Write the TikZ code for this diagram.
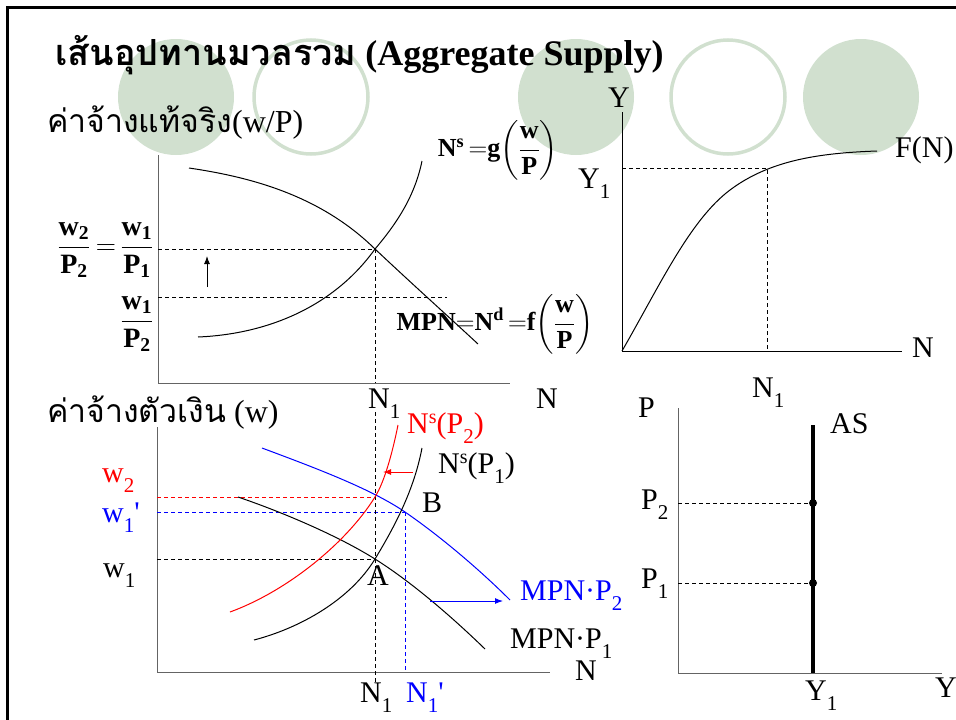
\RequirePackage{fix-cm}
\documentclass[tikz,border=0pt]{standalone}
\usepackage{amsmath}
\usepackage{fontspec}
\setmainfont{Liberation Serif}
\newfontfamily\thai[Script=Thai]{Loma}
\usetikzlibrary{arrows.meta}
\definecolor{cgreen}{RGB}{209,224,207}
\definecolor{axisgray}{RGB}{100,100,100}
\newcommand\lo[1]{\raisebox{-10pt}{\fontsize{21}{21}\selectfont #1}}
\newcommand\hi[1]{\raisebox{10pt}{\fontsize{20}{20}\selectfont #1}}
\newcommand\bfr[2]{\dfrac{\mathbf{#1}}{\mathbf{#2}}}
\begin{document}
\begin{tikzpicture}[x=1pt,y=-1pt,
  lbl/.style={inner sep=0pt, anchor=base west, font=\fontsize{30}{32}\selectfont},
  thlbl/.style={inner sep=0pt, anchor=base west, font=\fontsize{32}{34}\selectfont},
  bfrac/.style={inner sep=0pt, font=\fontsize{28}{32}\selectfont},
  eqn/.style={inner sep=0pt, font=\fontsize{26}{30}\selectfont},
  ax/.style={line width=1pt, draw=axisgray},
  axb/.style={line width=1pt, draw=black},
  crv/.style={line width=1pt},
  dsh/.style={line width=1pt, dash pattern=on 4pt off 3pt},
  arr/.style={line width=1pt,-{Latex[length=8pt,width=6pt]}},
  ring/.style={draw=cgreen, line width=3.5pt},
  disc/.style={fill=cgreen}]
\useasboundingbox (0,0) rectangle (956,720);
% decorative circles
\fill[disc] (176,97) circle[radius=58pt];
\draw[ring] (311,97) circle[radius=57pt];
\fill[disc] (576,97) circle[radius=58pt];
\draw[ring] (728,97) circle[radius=57pt];
\fill[disc] (861,97) circle[radius=58pt];
% frame
\draw[line width=3pt] (7,720) -- (7,7) -- (956,7);
% title
\node[inner sep=0pt, anchor=base west, font=\fontsize{36}{40}\selectfont\bfseries] (title) at (55,65) {{\thai เส้นอุปทานมวลรวม} (Aggregate Supply)};
\node[thlbl] (realw) at (47,132) {{\thai ค่าจ้างแท้จริง}(w/P)};
\node[thlbl] (nomw) at (47,422) {{\thai ค่าจ้างตัวเงิน} (w)};

% ---------- top-left panel ----------
\coordinate (tlO) at (158,383);
\coordinate (tlT) at (158,155);
\coordinate (tlR) at (510,383);
\draw[ax] (tlT) -- (tlO) -- (tlR);
\coordinate (E1) at (375,249);
\coordinate (tlH) at (158,249);
\coordinate (tlL) at (158,297);
\coordinate (tlLe) at (447,297);
\coordinate (tlB) at (375,383);
\draw[dsh] (tlH) -- (E1);
\draw[dsh] (tlL) -- (tlLe);
\draw[dsh] (E1) -- (tlB);
\draw[crv] (189,168) .. controls (250,177) and (320,195) .. (E1) .. controls (410,282) and (450,318) .. (478,344);
\draw[crv] (198,337) .. controls (270,334) and (335,305) .. (E1) .. controls (398,222) and (415,195) .. (422,161);
\coordinate (upA) at (207,287);
\coordinate (upB) at (207,256);
\draw[arr] (upA) -- (upB);
\node[bfrac] (f1) at (74,250) {$\bfr{w_2}{P_2}$};
\node[bfrac] (eq1) at (106,250) {$=$};
\node[bfrac] (f2) at (137,250) {$\bfr{w_1}{P_1}$};
\node[bfrac] (f3) at (137,324) {$\bfr{w_1}{P_2}$};
\node[eqn] (nseq) at (498,150) {$\mathbf{N}^{\mathbf{s}}\,{\mathbf{=}}\mathbf{g}\biggl(\dfrac{\mathbf{w}}{\mathbf{P}}\biggr)$};
\node[eqn] (ndeq) at (495,324) {$\mathbf{MPN{=}N}^{\mathbf{d}}\,{\mathbf{=}}\mathbf{f}\biggl(\dfrac{\mathbf{w}}{\mathbf{P}}\biggr)$};
\node[lbl] (tlN1) at (368,408) {N\lo{1}};
\node[lbl] (tlN) at (536,408) {N};

% ---------- top-right panel ----------
\coordinate (trO) at (622,351);
\coordinate (trT) at (622,112);
\coordinate (trR) at (902,351);
\draw[axb] (trT) -- (trO) -- (trR);
\coordinate (trY1) at (622,168);
\coordinate (trP) at (767,168);
\coordinate (trN1) at (767,351);
\coordinate (trK) at (730,190);
\coordinate (trE) at (877,151);
\draw[dsh] (trY1) -- (trP) -- (trN1);
\draw[crv] (trO) .. controls (660,285) and (690,220) .. (trK) .. controls (770,160) and (820,153) .. (trE);
\node[lbl, anchor=center] (trYl) at (619,98) {Y};
\node[lbl] (trY1l) at (578,188) {Y\lo{1}};
\node[lbl] (trFN) at (895,157) {F(N)};
\node[lbl] (trNl) at (912,357) {N};
\node[lbl] (trN1l) at (752,397) {N\lo{1}};

% ---------- bottom-left panel ----------
\coordinate (blO) at (157,672);
\coordinate (blT) at (157,427);
\coordinate (blR) at (550,672);
\draw[ax] (blT) -- (blO) -- (blR);
\coordinate (A) at (375,559);
\coordinate (B) at (405,512);
\coordinate (C) at (375,497);
\draw[dsh, red] (157,497) coordinate (blw2) -- (C);
\draw[dsh, blue] (157,512) coordinate (blw1p) -- (B);
\draw[dsh, blue] (B) -- (405,672) coordinate (blN1p);
\draw[dsh] (157,559) coordinate (blw1) -- (A);
\draw[dsh] (375,412) coordinate (vT) -- (375,682) coordinate (vB);
% MPN.P1
\draw[crv] (238,497) .. controls (285,513) and (340,537) .. (A) .. controls (410,581) and (450,615) .. (485,649);
% MPN.P2
\draw[crv, blue] (262,448) .. controls (310,466) and (370,488) .. (B) .. controls (440,536) and (480,570) .. (510,600);
% Ns(P1)
\draw[crv] (254,640) .. controls (300,628) and (350,600) .. (A) .. controls (395,526) and (414,490) .. (422,448);
% Ns(P2)
\draw[crv, red] (230,612) .. controls (285,592) and (345,545) .. (C) .. controls (385,481) and (393,450) .. (398,425);
\coordinate (raS) at (413,472);
\coordinate (raE) at (383,472);
\draw[arr, red] (raS) -- (raE);
\coordinate (baS) at (430,601);
\coordinate (baE) at (503,601);
\draw[arr, blue] (baS) -- (baE);
\node[lbl, text=red] (lw2) at (102,482) {w\lo{2}};
\node[lbl, text=blue] (lw1p) at (102,522) {w\lo{1}\textquotesingle};
\node[lbl] (lw1) at (103,577) {w\lo{1}};
\node[lbl, text=red] (lNs2) at (407,433) {N\hi{s}(P\lo{2})};
\node[lbl] (lNs1) at (438,473) {N\hi{s}(P\lo{1})};
\node[lbl] (lB) at (422,512) {B};
\node[lbl] (lA) at (367,585) {A};
\node[lbl, text=blue] (lMP2) at (520,600) {MPN·P\lo{2}};
\node[lbl] (lMP1) at (510,648) {MPN·P\lo{1}};
\node[lbl] (lNax) at (575,680) {N};
\node[lbl] (lN1) at (360,702) {N\lo{1}};
\node[lbl, text=blue] (lN1p) at (406,702) {N\lo{1}\textquotesingle};

% ---------- bottom-right panel ----------
\coordinate (brO) at (678,673);
\coordinate (brT) at (678,408);
\coordinate (brR) at (942,673);
\draw[ax] (brT) -- (brO) -- (brR);
\coordinate (AStop) at (813,425);
\coordinate (ASbot) at (813,673);
\coordinate (p2) at (813,503);
\coordinate (p1) at (813,583);
\draw[dsh] (678,503) coordinate (p2l) -- (p2);
\draw[dsh] (678,583) coordinate (p1l) -- (p1);
\draw[line width=4pt] (AStop) -- (ASbot);
\fill (p2) circle[radius=4pt];
\fill (p1) circle[radius=4pt];
\node[lbl] (brP) at (638,417) {P};
\node[lbl] (brP2) at (641,509) {P\lo{2}};
\node[lbl] (brP1) at (641,588) {P\lo{1}};
\node[lbl] (brAS) at (830,433) {AS};
\node[lbl] (brY1) at (805,700) {Y\lo{1}};
\node[lbl] (brY) at (935,697) {Y};
\end{tikzpicture}
\end{document}
